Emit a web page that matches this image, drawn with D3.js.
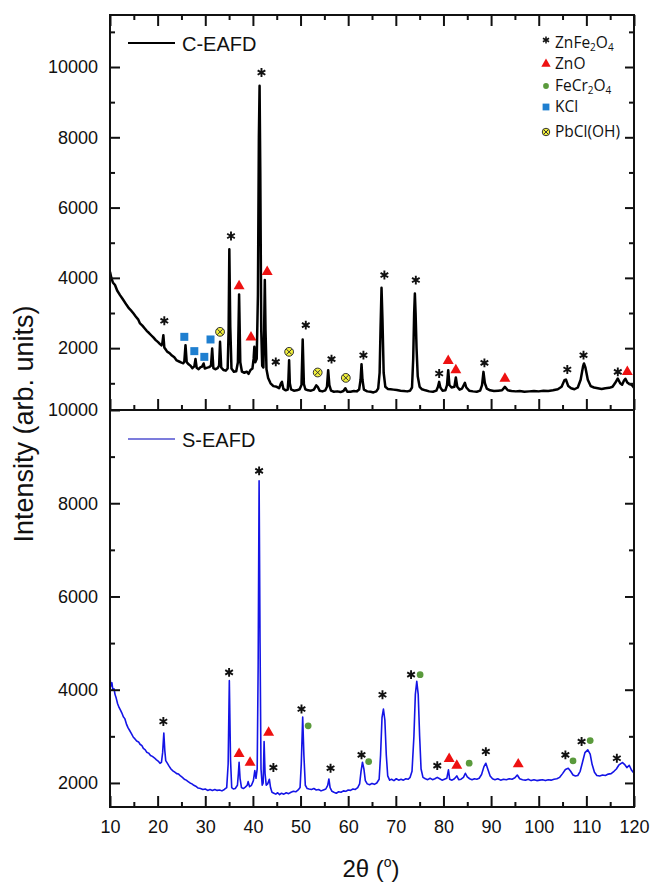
<!DOCTYPE html>
<html>
<head>
<meta charset="utf-8">
<script src="https://cdn.jsdelivr.net/npm/d3@7"></script>
<style>
  html, body { margin: 0; padding: 0; background: #fff; }
  svg { display: block; }
</style>
</head>
<body>
<svg id="chart" width="651" height="883"></svg>
<script>
// ---------------- DATA ----------------
const xTicks = [10, 20, 30, 40, 50, 60, 70, 80, 90, 100, 110, 120];
const xMinorTicks = [15, 25, 35, 45, 55, 65, 75, 85, 95, 105, 115];
const yTicksTop = [2000, 4000, 6000, 8000, 10000];
const yMinorTop = [1000, 3000, 5000, 7000, 9000, 11000];
const yTicksBottom = [2000, 4000, 6000, 8000, 10000];
const yMinorBottom = [3000, 5000, 7000, 9000];

const seriesNames = ["C-EAFD", "S-EAFD"];

// C-EAFD pattern [2θ, intensity]
const cEafd = [[10.0,4170],[10.3,3990],[10.6,3870],[11.05,3795],[11.5,3640],[12.1,3510],[12.7,3390],[13.5,3225],[14.0,3130],[14.5,3060],[14.9,2990],[15.4,2900],[15.9,2820],[16.3,2704],[16.8,2640],[17.3,2560],[17.7,2493],[18.2,2430],[18.7,2360],[19.1,2305],[19.6,2230],[20.1,2170],[20.5,2114],[20.8,2080],[21.0,2150],[21.2,2370],[21.4,2020],[21.7,1960],[22.0,1900],[22.5,1860],[23.0,1790],[23.5,1740],[24.0,1650],[24.5,1620],[25.0,1590],[25.4,1570],[25.6,1620],[25.85,2085],[26.1,1600],[26.5,1540],[26.9,1500],[27.3,1430],[27.7,1480],[27.95,1690],[28.2,1440],[28.6,1400],[29.0,1460],[29.3,1470],[29.65,1564],[29.9,1420],[30.3,1440],[30.8,1460],[31.2,1500],[31.45,1990],[31.7,1430],[32.1,1400],[32.6,1430],[32.9,1500],[33.1,2180],[33.35,1450],[33.8,1380],[34.3,1360],[34.7,1420],[34.9,2500],[35.05,4812],[35.25,2600],[35.5,1420],[36.0,1330],[36.5,1340],[36.85,1600],[37.1,3530],[37.35,1600],[37.7,1330],[38.2,1300],[38.7,1330],[39.1,1270],[39.5,1380],[39.9,1420],[40.15,1700],[40.3,2037],[40.5,1600],[40.8,1700],[41.05,3500],[41.25,8000],[41.4,9464],[41.55,7000],[41.75,2500],[41.95,1500],[42.2,1450],[42.35,2500],[42.5,3937],[42.65,2500],[42.85,1400],[43.2,1150],[43.7,1000],[44.3,920],[45.0,900],[45.5,860],[45.9,1000],[46.1,1040],[46.4,840],[46.9,800],[47.3,820],[47.45,1100],[47.6,1658],[47.75,1000],[48.0,830],[48.6,790],[49.2,800],[49.8,830],[50.2,950],[50.45,2247],[50.7,980],[51.0,830],[51.6,800],[52.2,790],[52.8,820],[53.3,940],[53.6,900],[54.0,790],[54.6,770],[55.2,800],[55.55,900],[55.8,1373],[56.05,950],[56.4,790],[57.0,760],[57.7,770],[58.4,750],[59.0,780],[59.4,860],[59.8,760],[60.5,760],[61.2,780],[61.8,770],[62.3,820],[62.6,1100],[62.8,1544],[63.0,1100],[63.3,820],[64.0,770],[64.7,760],[65.3,740],[65.9,770],[66.3,850],[66.6,1300],[66.8,2600],[67.0,3718],[67.2,2800],[67.45,1300],[67.8,900],[68.3,840],[68.9,830],[69.5,820],[70.2,810],[71.0,790],[71.7,780],[72.4,770],[73.0,790],[73.4,880],[73.65,1700],[73.85,3000],[74.0,3557],[74.15,3000],[74.35,2000],[74.6,1200],[75.0,900],[75.5,830],[76.2,800],[77.0,770],[77.8,760],[78.5,790],[78.85,900],[79.1,1040],[79.35,880],[79.8,790],[80.4,800],[80.75,950],[81.0,1373],[81.25,950],[81.7,880],[82.3,900],[82.6,1165],[82.9,900],[83.4,820],[83.9,850],[84.3,960],[84.5,1013],[84.8,880],[85.4,790],[86.2,770],[87.0,760],[87.7,790],[88.1,950],[88.4,1325],[88.7,1000],[89.1,850],[89.8,800],[90.6,780],[91.5,790],[92.3,800],[92.9,897],[93.5,800],[94.3,780],[95.2,770],[96.0,780],[97.0,760],[98.0,770],[99.0,780],[100.0,770],[101.0,790],[102.0,780],[103.0,800],[104.0,830],[104.8,900],[105.4,1090],[105.7,1107],[106.2,920],[106.8,860],[107.5,830],[108.2,880],[108.8,1100],[109.3,1480],[109.5,1564],[109.8,1450],[110.3,1100],[110.9,920],[111.6,880],[112.4,860],[113.2,840],[114.0,860],[114.8,870],[115.5,900],[116.0,1000],[116.6,1136],[117.1,1000],[117.5,960],[117.9,1080],[118.2,1130],[118.6,1020],[119.0,980],[119.5,960],[120.0,870]];

// S-EAFD pattern [2θ, intensity]
const sEafd = [[10.0,4251],[10.2,4080],[10.4,4150],[10.6,3990],[10.85,4020],[11.05,3900],[11.3,3820],[11.6,3700],[11.9,3620],[12.2,3560],[12.5,3500],[12.8,3420],[13.1,3380],[13.5,3250],[13.8,3180],[14.1,3130],[14.5,3060],[14.9,2980],[15.2,2950],[15.6,2900],[16.0,2880],[16.3,2830],[16.7,2800],[17.0,2740],[17.4,2710],[17.7,2660],[18.1,2640],[18.5,2590],[18.9,2570],[19.3,2540],[19.7,2500],[20.1,2470],[20.5,2420],[20.8,2440],[21.05,2650],[21.3,3069],[21.5,2700],[21.7,2480],[22.0,2430],[22.4,2360],[22.8,2300],[23.2,2260],[23.6,2230],[24.0,2200],[24.4,2190],[24.8,2150],[25.2,2120],[25.6,2080],[26.0,2060],[26.4,2030],[26.8,2000],[27.2,1980],[27.6,1950],[28.0,1930],[28.5,1890],[29.0,1880],[29.5,1860],[30.0,1870],[30.5,1840],[31.0,1860],[31.5,1840],[32.0,1860],[32.5,1840],[33.0,1850],[33.5,1830],[34.0,1860],[34.5,1900],[34.8,2400],[35.05,4194],[35.3,2500],[35.55,1900],[35.9,1870],[36.3,1880],[36.75,1950],[36.95,2200],[37.1,2445],[37.3,2100],[37.6,1900],[38.0,1880],[38.4,1910],[38.8,1950],[39.0,2028],[39.3,1920],[39.7,1950],[40.1,2050],[40.4,2265],[40.65,2100],[40.9,2300],[41.1,4500],[41.3,8480],[41.5,5000],[41.7,2300],[41.95,1950],[42.15,2000],[42.35,2888],[42.55,2200],[42.8,1950],[43.1,1980],[43.45,2080],[43.7,1900],[44.0,1800],[44.4,1780],[44.8,1760],[45.2,1790],[45.6,1750],[46.0,1780],[46.5,1760],[47.0,1790],[47.5,1770],[48.0,1800],[48.5,1820],[49.0,1810],[49.5,1850],[49.9,1900],[50.15,2400],[50.45,3413],[50.7,2600],[51.0,1950],[51.4,1880],[51.8,1870],[52.3,1860],[52.8,1880],[53.3,1850],[53.8,1860],[54.3,1830],[54.8,1850],[55.3,1870],[55.7,1950],[55.95,2086],[56.2,1900],[56.6,1820],[57.0,1800],[57.5,1780],[58.0,1810],[58.5,1800],[59.0,1830],[59.5,1820],[60.0,1850],[60.5,1840],[61.0,1870],[61.5,1860],[62.0,1900],[62.4,1980],[62.7,2250],[63.0,2445],[63.3,2300],[63.6,2050],[64.0,1980],[64.5,1960],[65.0,1990],[65.5,1970],[66.0,2000],[66.5,2080],[66.8,2600],[67.1,3400],[67.4,3585],[67.7,3350],[68.0,2600],[68.3,2150],[68.7,2060],[69.1,2080],[69.6,2050],[70.1,2090],[70.6,2060],[71.1,2080],[71.6,2060],[72.1,2090],[72.6,2080],[73.0,2120],[73.4,2250],[73.8,3000],[74.1,3900],[74.4,4179],[74.7,3900],[75.0,3000],[75.3,2300],[75.7,2120],[76.2,2090],[76.7,2070],[77.2,2100],[77.7,2070],[78.2,2090],[78.7,2120],[79.2,2090],[79.7,2060],[80.2,2080],[80.7,2100],[81.05,2280],[81.3,2080],[81.8,2060],[82.3,2090],[82.8,2150],[83.2,2070],[83.7,2080],[84.2,2120],[84.6,2208],[85.0,2130],[85.5,2090],[86.0,2070],[86.5,2090],[87.0,2080],[87.5,2100],[88.0,2180],[88.5,2350],[88.9,2423],[89.3,2300],[89.8,2150],[90.3,2090],[90.8,2070],[91.4,2090],[92.0,2060],[92.6,2080],[93.2,2070],[93.8,2090],[94.4,2080],[95.0,2110],[95.5,2170],[96.0,2090],[96.6,2070],[97.2,2060],[97.8,2080],[98.4,2050],[99.0,2070],[99.6,2050],[100.2,2060],[100.8,2070],[101.4,2050],[102.0,2070],[102.6,2060],[103.2,2080],[103.8,2090],[104.4,2120],[105.0,2200],[105.6,2290],[106.2,2315],[106.7,2250],[107.2,2170],[107.7,2150],[108.2,2160],[108.7,2250],[109.2,2450],[109.7,2650],[110.3,2710],[110.8,2620],[111.2,2400],[111.7,2230],[112.2,2160],[112.8,2150],[113.4,2170],[114.0,2160],[114.6,2190],[115.2,2200],[115.8,2250],[116.3,2300],[116.8,2380],[117.3,2420],[117.6,2437],[118.0,2400],[118.5,2330],[119.0,2380],[119.5,2270],[120.0,2208]];

// Phase markers, C-EAFD panel
const cZnFe2O4 = [[21.4,2778],[35.4,5191],[41.8,9843],[44.8,1610],[51.1,2655],[56.5,1687],[63.2,1800],[67.6,4080],[74.2,3937],[79.1,1279],[88.6,1581],[106.0,1393],[109.4,1800],[116.6,1325]];
const cZnO = [[37.1,3766],[39.6,2305],[43.0,4174],[81.0,1638],[82.6,1373],[92.9,1136],[118.6,1325]];
const cKCl = [[25.6,2322],[27.7,1915],[29.8,1752],[31.1,2247]];
const cPbClOH = [[33.1,2464],[47.6,1895],[53.6,1307],[59.5,1154]];

// Phase markers, S-EAFD panel
const sZnFe2O4 = [[21.2,3318],[35.0,4372],[41.3,8695],[44.3,2330],[50.2,3585],[56.3,2316],[62.8,2602],[67.2,3892],[73.2,4323],[78.7,2372],[88.9,2673],[105.6,2602],[109.0,2888],[116.4,2530]];
const sZnO = [[37.1,2624],[39.4,2437],[43.3,3082],[81.2,2516],[82.8,2372],[95.7,2402]];
const sFeCr2O4 = [[51.6,3226],[64.3,2459],[75.1,4323],[85.4,2423],[107.2,2473],[110.8,2910]];

const phaseLegend = [
  {key: "ZnFe2O4", parts: [["Zn",0],["Fe",0],["2",1],["O",0],["4",1]], type: "ast"},
  {key: "ZnO", parts: [["ZnO",0]], type: "tri"},
  {key: "FeCr2O4", parts: [["FeCr",0],["2",1],["O",0],["4",1]], type: "circ"},
  {key: "KCl", parts: [["KCl",0]], type: "sq"},
  {key: "PbCl(OH)", parts: [["PbCl(OH)",0]], type: "otimes"}
];

// ---------------- LAYOUT ----------------
const svg = d3.select("#chart");
const W = 651, H = 883;
svg.append("rect").attr("width", W).attr("height", H).attr("fill", "#fff");

const left = 110, right = 634;
const x = d3.scaleLinear().domain([10, 120]).range([left, right]);

const panels = [
  {top: 15, bottom: 410, domain: [240, 11480], data: cEafd, color: "#000000", width: 2.5,
   ticks: yTicksTop, minor: yMinorTop, name: seriesNames[0], legendY: 43, topTicks: true, xLabels: false},
  {top: 410, bottom: 807, domain: [1484, 10000], data: sEafd, color: "#1414e6", width: 1.6,
   ticks: yTicksBottom, minor: yMinorBottom, name: seriesNames[1], legendY: 439, topTicks: false, xLabels: true}
];

const COLORS = {tri: "#ee1111", sq: "#1f7fd0", circ: "#5a9a3c", ottFill: "#f2f03a"};
const axisFont = "'Liberation Sans', Arial, sans-serif";

function drawMarker(g, type, cx, cy, scale) {
  const s = scale || 1;
  if (type === "ast") {
    g.append("path")
      .attr("d", d3.symbol(d3.symbolAsterisk, 55 * s * s)())
      .attr("transform", `translate(${cx},${cy})`)
      .attr("stroke", "#111").attr("stroke-width", 1.9 * s).attr("fill", "none");
  } else if (type === "tri") {
    g.append("path")
      .attr("d", d3.symbol(d3.symbolTriangle, 52 * s * s)())
      .attr("transform", `translate(${cx},${cy})`)
      .attr("fill", COLORS.tri);
  } else if (type === "sq") {
    g.append("path")
      .attr("d", d3.symbol(d3.symbolSquare, 64 * s * s)())
      .attr("transform", `translate(${cx},${cy})`)
      .attr("fill", COLORS.sq);
  } else if (type === "circ") {
    g.append("path")
      .attr("d", d3.symbol(d3.symbolCircle, 36 * s * s)())
      .attr("transform", `translate(${cx},${cy})`)
      .attr("fill", COLORS.circ);
  } else if (type === "otimes") {
    const r = 4.4 * s;
    const gg = g.append("g").attr("transform", `translate(${cx},${cy})`);
    gg.append("circle").attr("r", r).attr("fill", COLORS.ottFill).attr("stroke", "#333").attr("stroke-width", 1);
    const d = r * 0.62;
    gg.append("path").attr("d", `M${-d},${-d}L${d},${d}M${-d},${d}L${d},${-d}`)
      .attr("stroke", "#333").attr("stroke-width", 1);
  }
}

const markerSets = [
  [[cZnFe2O4, "ast"], [cZnO, "tri"], [cKCl, "sq"], [cPbClOH, "otimes"]],
  [[sZnFe2O4, "ast"], [sZnO, "tri"], [sFeCr2O4, "circ"]]
];

panels.forEach((p, i) => {
  const y = d3.scaleLinear().domain(p.domain).range([p.bottom, p.top]);
  const g = svg.append("g");

  const clipId = "clip" + i;
  svg.append("clipPath").attr("id", clipId).append("rect")
    .attr("x", left).attr("y", p.top).attr("width", right - left).attr("height", p.bottom - p.top);

  const line = d3.line().x(d => x(d[0])).y(d => y(d[1]));
  g.append("path").datum(p.data)
    .attr("d", line)
    .attr("fill", "none")
    .attr("stroke", p.color)
    .attr("stroke-width", p.width)
    .attr("stroke-linejoin", "round")
    .attr("clip-path", `url(#${clipId})`);

  markerSets[i].forEach(([arr, type]) => {
    arr.forEach(d => drawMarker(g, type, x(d[0]), y(d[1]), 1));
  });

  const axG = svg.append("g").attr("font-family", axisFont);
  const la = axG.append("g").attr("transform", `translate(${left},0)`)
    .call(d3.axisLeft(y).tickValues(p.ticks).tickSize(-10).tickSizeOuter(0).tickPadding(12).tickFormat(d3.format("d")));
  la.selectAll("text").attr("font-size", 18).attr("fill", "#111");
  axG.append("g").attr("transform", `translate(${left},0)`)
    .call(d3.axisLeft(y).tickValues(p.minor.filter(v => v > p.domain[0] && v < p.domain[1])).tickSize(-5).tickSizeOuter(0).tickFormat(""));
  axG.append("g").attr("transform", `translate(${right},0)`)
    .call(d3.axisRight(y).tickValues(p.ticks.filter(v => v < p.domain[1] - 1 && (i === 0 || v < 10000))).tickSize(-9).tickSizeOuter(0).tickFormat(""));
  axG.append("g").attr("transform", `translate(${right},0)`)
    .call(d3.axisRight(y).tickValues(p.minor.filter(v => v > p.domain[0] && v < p.domain[1])).tickSize(-5).tickSizeOuter(0).tickFormat(""));
  if (p.topTicks) {
    axG.append("g").attr("transform", `translate(0,${p.top})`)
      .call(d3.axisTop(x).tickValues(xTicks).tickSize(-11).tickSizeOuter(0).tickFormat(""));
    axG.append("g").attr("transform", `translate(0,${p.top})`)
      .call(d3.axisTop(x).tickValues(xMinorTicks).tickSize(-5).tickSizeOuter(0).tickFormat(""));
  }
  const ba = axG.append("g").attr("transform", `translate(0,${p.bottom})`)
    .call(d3.axisBottom(x).tickValues(xTicks).tickSize(-11).tickSizeOuter(0).tickPadding(13)
      .tickFormat(p.xLabels ? d3.format("d") : ""));
  ba.selectAll("text").attr("font-size", 18).attr("fill", "#111");
  axG.append("g").attr("transform", `translate(0,${p.bottom})`)
    .call(d3.axisBottom(x).tickValues(xMinorTicks).tickSize(-5).tickSizeOuter(0).tickFormat(""));

  axG.selectAll(".tick line").attr("stroke", "#111").attr("stroke-width", 2);
  axG.selectAll(".domain").attr("stroke", "none");

  svg.append("rect").attr("x", left).attr("y", p.top).attr("width", right - left).attr("height", p.bottom - p.top)
    .attr("fill", "none").attr("stroke", "#111").attr("stroke-width", 2);

  svg.append("line").attr("x1", 128).attr("x2", 175).attr("y1", p.legendY).attr("y2", p.legendY)
    .attr("stroke", i === 0 ? p.color : "#5050d0").attr("stroke-width", i === 0 ? 2 : 1.4);
  svg.append("text").attr("x", 182).attr("y", p.legendY + 8)
    .attr("font-family", axisFont).attr("font-size", 20).attr("fill", "#111").text(p.name);
});

// phase legend
const legY = [43, 64, 86, 107, 132];
const lg = svg.append("g");
phaseLegend.forEach((item, k) => {
  const cy = legY[k];
  drawMarker(lg, item.type, 546, item.type === "ast" ? cy - 3 : cy, item.type === "ast" ? 0.8 : 0.85);
  const t = lg.append("text").attr("x", 555).attr("y", cy + 5)
    .attr("font-family", "'Open Sans', 'Noto Sans', sans-serif").attr("font-size", 15.5).attr("fill", "#111");
  item.parts.forEach(([s, sub]) => {
    const ts = t.append("tspan").text(s);
    if (sub) ts.attr("font-size", 10).attr("baseline-shift", "-30%");
  });
});

// axis titles
const xt = svg.append("text").attr("x", 371).attr("y", 877).attr("text-anchor", "middle")
  .attr("font-family", axisFont).attr("font-size", 24).attr("fill", "#111");
xt.append("tspan").text("2θ (");
xt.append("tspan").text("o").attr("font-size", 14).attr("baseline-shift", "70%");
xt.append("tspan").text(")");

svg.append("text").attr("transform", "translate(33,424) rotate(-90)").attr("text-anchor", "middle")
  .attr("font-family", axisFont).attr("font-size", 27).attr("fill", "#111")
  .text("Intensity (arb. units)");
</script>
</body>
</html>
